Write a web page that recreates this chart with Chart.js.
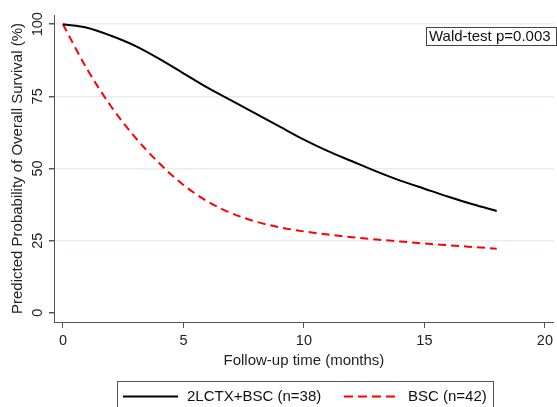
<!DOCTYPE html>
<html>
<head>
<meta charset="utf-8">
<script src="https://cdn.jsdelivr.net/npm/chart.js@4"></script>
<style>
  html, body { margin: 0; padding: 0; background: #fff; }
  #wrap { width: 557px; height: 407px; position: relative; }
</style>
</head>
<body>
<div id="wrap"><canvas id="chart" width="557" height="407"></canvas></div>
<script>
// Follow-up months and predicted survival (%)
var months = [0, 1, 2, 3, 4, 5, 6, 7, 8, 9, 10, 11, 12, 13, 14, 15, 16, 17, 18];
var survChemo = [100, 98.8, 96, 92.5, 88, 83, 78, 73.5, 69, 64.5, 60, 56, 52.5, 49, 45.8, 43, 40.2, 37.6, 35.3];
var survBsc = [100, 84.5, 71.5, 60.8, 51.8, 44.3, 38.6, 34.5, 31.6, 29.6, 28.2, 27.1, 26.2, 25.4, 24.7, 24.0, 23.4, 22.8, 22.2];
var seriesLabels = ['2LCTX+BSC (n=38)', 'BSC (n=42)'];
var xTicks = [0, 5, 10, 15, 20];
var yTicks = [0, 25, 50, 75, 100];
var waldText = 'Wald-test p=0.003';

var FONT = '"Liberation Sans", Arial, sans-serif';
var AXIS = '#555';

// draws rotated y tick labels, the Wald box and the boxed legend
var extras = {
    id: 'extras',
    afterDraw: function(chart) {
        var ctx = chart.ctx;
        var y = chart.scales.y;
        ctx.save();
        ctx.fillStyle = '#222';
        ctx.font = '14.5px ' + FONT;
        ctx.textAlign = 'center';
        ctx.textBaseline = 'middle';
        yTicks.forEach(function(v) {
            ctx.save();
            ctx.translate(38, y.getPixelForValue(v));
            ctx.rotate(-Math.PI / 2);
            ctx.fillText(String(v), 0, 0);
            ctx.restore();
        });

        // Wald-test annotation
        ctx.font = '15px ' + FONT;
        ctx.textAlign = 'left';
        ctx.fillStyle = '#fff';
        ctx.fillRect(426.5, 27.5, 130, 18);
        ctx.strokeStyle = '#444';
        ctx.lineWidth = 1;
        ctx.strokeRect(426.5, 27.5, 130, 18);
        ctx.fillStyle = '#111';
        ctx.fillText(waldText, 429, 37);

        // legend
        ctx.strokeStyle = '#555';
        ctx.strokeRect(117.5, 381.5, 376, 40);
        ctx.lineWidth = 2;
        ctx.strokeStyle = '#000';
        ctx.beginPath();
        ctx.moveTo(123, 396.5);
        ctx.lineTo(178, 396.5);
        ctx.stroke();
        ctx.fillText(seriesLabels[0], 187, 397);
        ctx.strokeStyle = '#ff0000';
        ctx.setLineDash([9, 5]);
        ctx.beginPath();
        ctx.moveTo(344, 396.5);
        ctx.lineTo(399, 396.5);
        ctx.stroke();
        ctx.setLineDash([]);
        ctx.fillText(seriesLabels[1], 408, 397);
        ctx.restore();
    }
};

new Chart(document.getElementById('chart'), {
    type: 'line',
    data: {
        labels: months,
        datasets: [{
            label: seriesLabels[0],
            data: months.map(function(m, i) { return {x: m, y: survChemo[i]}; }),
            borderColor: '#000',
            borderWidth: 2,
            pointRadius: 0,
            cubicInterpolationMode: 'monotone',
            fill: false
        }, {
            label: seriesLabels[1],
            data: months.map(function(m, i) { return {x: m, y: survBsc[i]}; }),
            borderColor: '#ff0000',
            borderWidth: 2,
            borderDash: [8, 5],
            pointRadius: 0,
            cubicInterpolationMode: 'monotone',
            fill: false
        }]
    },
    options: {
        responsive: false,
        animation: false,
        layout: { padding: { top: 15, right: 0, bottom: 35, left: 0 } },
        plugins: { legend: { display: false }, tooltip: { enabled: false } },
        scales: {
            x: {
                type: 'linear',
                min: -0.37,
                max: 20.37,
                afterBuildTicks: function(s) { s.ticks = xTicks.map(function(v) { return {value: v}; }); },
                afterFit: function(s) { s.height = 50; },
                border: { color: AXIS, width: 1 },
                grid: { drawOnChartArea: false, tickLength: 6, tickColor: AXIS },
                ticks: { color: '#222', font: { family: FONT, size: 14.5 }, padding: 4, maxRotation: 0 },
                title: {
                    display: true,
                    text: 'Follow-up time (months)',
                    color: '#222',
                    font: { family: FONT, size: 15 },
                    padding: { top: 0, bottom: 2 }
                }
            },
            y: {
                min: -3.2,
                max: 103.2,
                afterBuildTicks: function(s) { s.ticks = yTicks.map(function(v) { return {value: v}; }); },
                afterFit: function(s) { s.width = 54; },
                border: { color: AXIS, width: 1 },
                grid: {
                    color: function(c) { return c.tick && c.tick.value === 0 ? 'rgba(0,0,0,0)' : '#e6eeee'; },
                    lineWidth: 1.5,
                    tickLength: 5,
                    tickColor: AXIS
                },
                ticks: { display: false },
                title: {
                    display: true,
                    text: 'Predicted Probability of Overall Survival (%)',
                    color: '#222',
                    font: { family: FONT, size: 15 },
                    padding: { top: 9, bottom: 0 }
                }
            }
        }
    },
    plugins: [extras]
});
</script>
</body>
</html>
